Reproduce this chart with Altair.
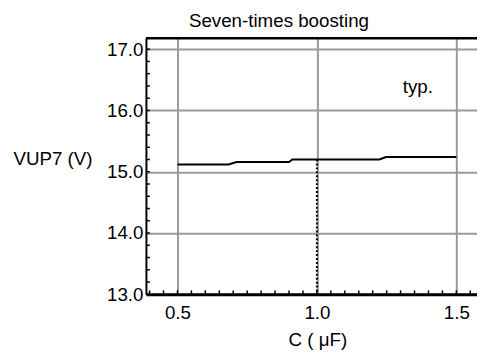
import altair as alt
import pandas as pd

# ---- data ----
cap_uF = [0.5, 0.683, 0.712, 0.900, 0.912, 1.224, 1.248, 1.5]
vup7_V = [15.12, 15.12, 15.16, 15.16, 15.20, 15.20, 15.24, 15.24]

x_ticks = [0.5, 1.0, 1.5]
y_ticks = [13.0, 14.0, 15.0, 16.0, 17.0]
x_minor = [0.40, 0.45, 0.50, 0.55, 0.60, 0.65, 0.70, 0.75, 0.80, 0.85, 0.90, 0.95,
           1.00, 1.05, 1.10, 1.15, 1.20, 1.25, 1.30, 1.35, 1.40, 1.45, 1.50, 1.55]
y_minor = [13.2, 13.4, 13.6, 13.8, 14.0, 14.2, 14.4, 14.6, 14.8, 15.0, 15.2, 15.4,
           15.6, 15.8, 16.0, 16.2, 16.4, 16.6, 16.8, 17.0]

marker_x = [1.0]
marker_top = [15.20]
marker_bottom = [13.0]

note_x = [1.362]
note_y = [16.38]
note_text = ["typ."]

title_text = ["Seven-times boosting"]

W, H = 336, 260
FONT = "Liberation Sans"
FS = 19

xscale = alt.Scale(domain=[0.387, 1.574], nice=False, zero=False)
yscale = alt.Scale(domain=[13.0, 17.18], nice=False, zero=False)

df = pd.DataFrame({"C": cap_uF, "V": vup7_V})

line = alt.Chart(df).mark_line(color="black", strokeWidth=2).encode(
    x=alt.X("C:Q", scale=xscale, axis=alt.Axis(
        values=x_ticks, format=".1f", title="C ( μF)",
        grid=True, gridColor="#999999", gridWidth=2,
        domainColor="black", domainWidth=3, tickSize=0,
        labelFont=FONT, labelFontSize=FS, labelColor="black", labelPadding=10,
        titleFont=FONT, titleFontSize=FS, titleFontWeight="normal", titleColor="black",
        titleX=174, titleY=46, titleBaseline="middle", titleAlign="center")),
    y=alt.Y("V:Q", scale=yscale, axis=alt.Axis(
        values=y_ticks, format=".1f", title="VUP7 (V)",
        grid=True, gridColor="#999999", gridWidth=2,
        domainColor="black", domainWidth=2, tickSize=0,
        labelFont=FONT, labelFontSize=FS, labelColor="black", labelPadding=3,
        titleFont=FONT, titleFontSize=FS, titleFontWeight="normal", titleColor="black",
        titleAngle=0, titleAlign="left", titleBaseline="middle", titleX=-135, titleY=122)),
)

xm = alt.Chart(pd.DataFrame({"m": x_minor})).mark_rule(color="black", strokeWidth=1.5).encode(
    x=alt.X("m:Q", scale=xscale), y=alt.value(H), y2=alt.value(H - 4))

ym = alt.Chart(pd.DataFrame({"m": y_minor})).mark_rule(color="black", strokeWidth=1.5).encode(
    y=alt.Y("m:Q", scale=yscale), x=alt.value(0), x2=alt.value(4))

marker = alt.Chart(pd.DataFrame({"x": marker_x, "t": marker_top, "b": marker_bottom})).mark_rule(
    color="black", strokeWidth=2, strokeDash=[2, 2]).encode(
    x=alt.X("x:Q", scale=xscale), y=alt.Y("t:Q", scale=yscale), y2="b:Q")

note = alt.Chart(pd.DataFrame({"x": note_x, "y": note_y, "t": note_text})).mark_text(
    font=FONT, fontSize=FS, color="black").encode(
    x=alt.X("x:Q", scale=xscale), y=alt.Y("y:Q", scale=yscale), text="t:N")

title = alt.Chart(pd.DataFrame({"t": title_text})).mark_text(
    font=FONT, fontSize=FS, color="black", baseline="alphabetic", align="center").encode(
    x=alt.value(135), y=alt.value(-11), text="t:N")

top_border = alt.Chart(pd.DataFrame({"a": [0]})).mark_rule(color="black", strokeWidth=2.5).encode(
    x=alt.value(0), x2=alt.value(W), y=alt.value(0))

chart = alt.layer(xm, ym, marker, line, note, title, top_border).properties(
    width=W, height=H,
    autosize=alt.AutoSizeParams(type="none"),
    padding={"left": 140, "top": 28, "right": 0, "bottom": 60},
    background="white",
).configure_view(stroke=None)

chart.save("out.html", embed_options={"renderer": "svg", "actions": False})
